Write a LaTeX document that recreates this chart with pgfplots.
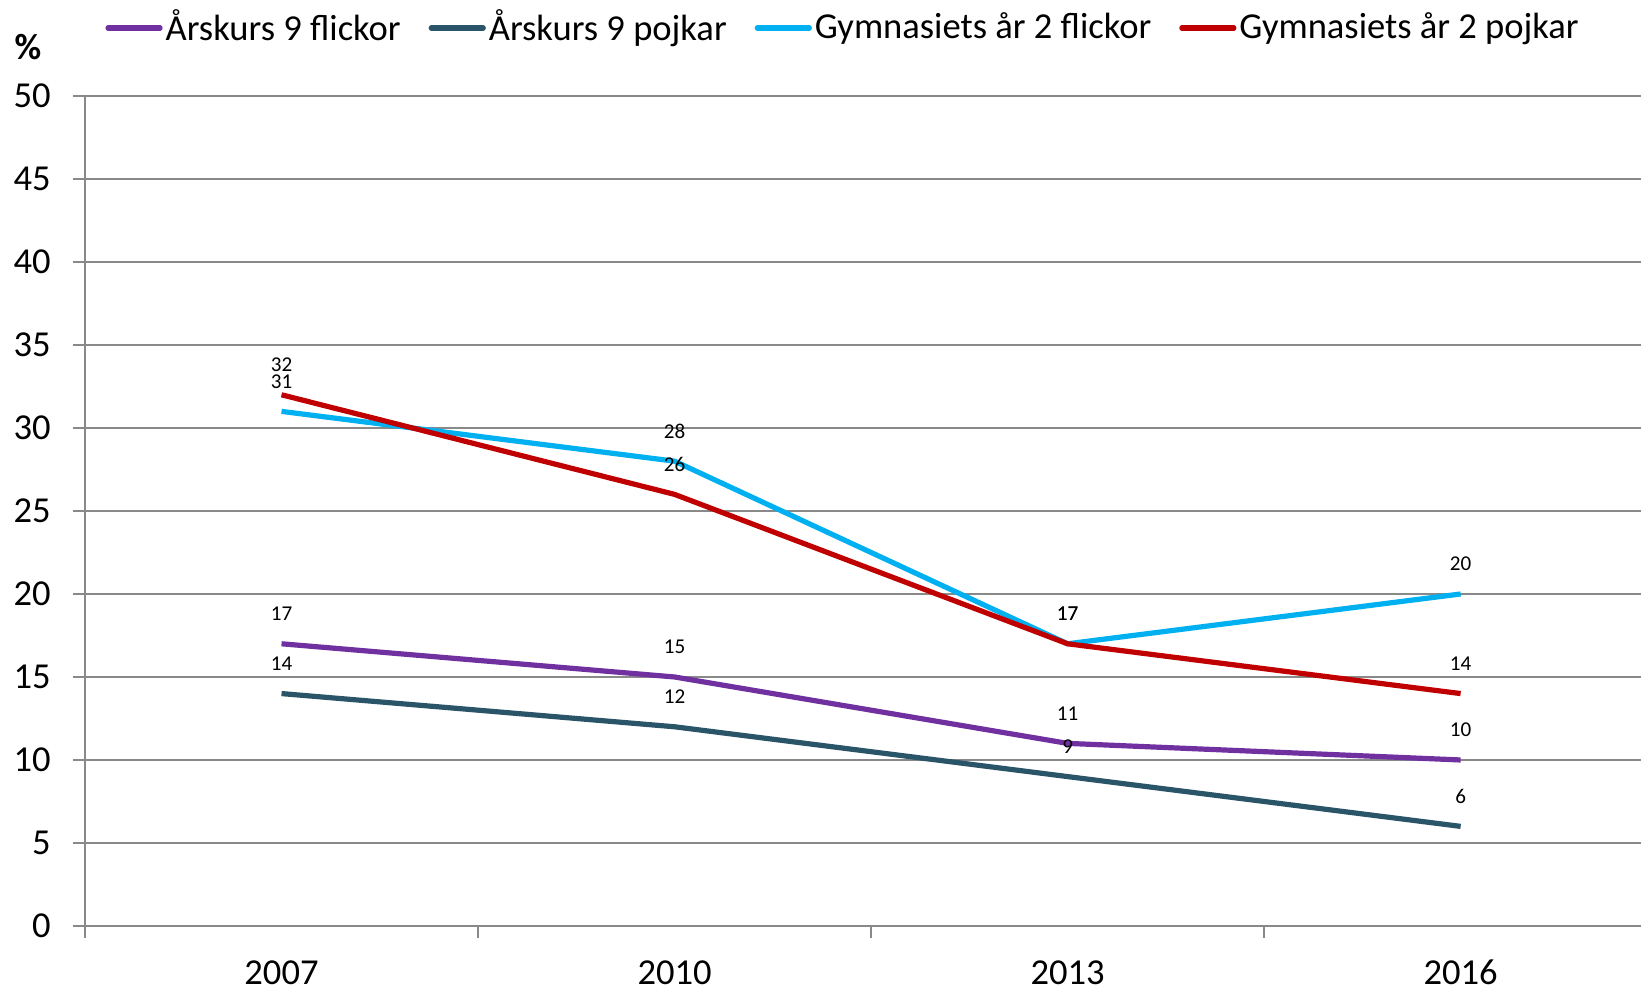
\documentclass[border=0pt]{standalone}
\usepackage{fontspec}
\setmainfont{Carlito}
\usepackage{pgfplots}
\pgfplotsset{compat=1.18}
\definecolor{c1}{HTML}{7030A0}
\definecolor{c2}{HTML}{2A5468}
\definecolor{c3}{HTML}{00B0F0}
\definecolor{c4}{HTML}{C00000}
\definecolor{gridgray}{HTML}{898989}

\begin{document}
\begin{tikzpicture}
\begin{axis}[
  scale only axis,
  width=15.56cm, height=8.30cm,
  xmin=-0.5, xmax=3.459,
  ymin=0, ymax=50,
  ytick={0,5,...,50},
  xtick={-0.5,0.5,1.5,2.5},
  xticklabels={,,,},
  extra x ticks={0,1,2,3},
  extra x tick labels={2007,2010,2013,2016},
  extra x tick style={tick style={draw=none},
    xticklabel style={anchor=north, text height=1.4ex, text depth=0pt, yshift=-0.11cm}},
  axis x line*=bottom, axis y line*=left,
  axis line style={gridgray, line width=0.02cm},
  ymajorgrids,
  grid style={gridgray, line width=0.02cm},
  tick align=outside,
  major tick length=0.12cm,
  tick style={gridgray, line width=0.02cm},
  tick label style={font=\fontsize{10.4}{12}\selectfont},
  yticklabel style={xshift=-0.10cm},
  /pgf/number format/assume math mode=true,
  clip=false,
  nodes near coords,
  every node near coord/.append style={font=\fontsize{6}{7}\selectfont, anchor=center, yshift=0.30cm, text=black},
  legend columns=4,
  legend style={at={(axis description cs:0.0127,1.0820)}, anchor=west, draw=none, fill=none, inner sep=0pt,
    font=\fontsize{10.4}{12}\selectfont,
    nodes={inner xsep=0.03cm},
    /tikz/every even column/.append style={column sep=0.25cm}},
  legend image code/.code={\draw[#1, line cap=round] (0cm,0cm) -- (0.52cm,0cm);},
  every axis plot/.append style={line width=0.052cm, mark=none},
]
\addplot[c1] coordinates {(0,17) (1,15) (2,11) (3,10)};
\addlegendentry{Årskurs 9 flickor}
\addplot[c2] coordinates {(0,14) (1,12) (2,9) (3,6)};
\addlegendentry{Årskurs 9 pojkar}
\addplot[c3] coordinates {(0,31) (1,28) (2,17) (3,20)};
\addlegendentry{Gymnasiets år 2 flickor}
\addplot[c4] coordinates {(0,32) (1,26) (2,17) (3,14)};
\addlegendentry{Gymnasiets år 2 pojkar}
\node[font=\bfseries\fontsize{10.4}{12}\selectfont] at (rel axis cs:0,1) [xshift=-0.57cm, yshift=0.49cm] {\%};
\coordinate (bl) at (rel axis cs:0,0);
\coordinate (tr) at (rel axis cs:1,1);
\end{axis}
\pgfresetboundingbox
\path ([shift={(-0.85cm,-0.64cm)}]bl) rectangle ([shift={(0cm,0.96cm)}]tr);
\end{tikzpicture}
\end{document}
